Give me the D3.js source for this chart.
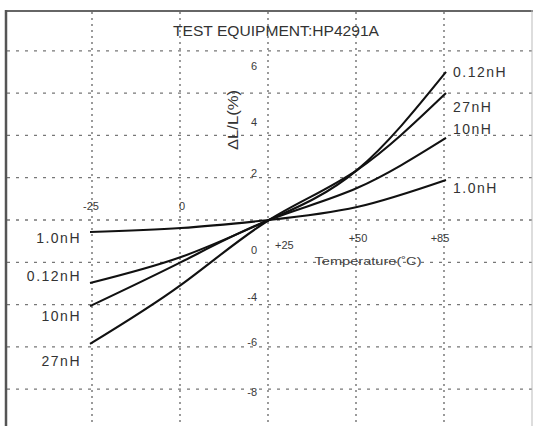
<!DOCTYPE html>
<html>
<head>
<meta charset="utf-8">
<script src="https://cdn.jsdelivr.net/npm/d3@7.9.0/dist/d3.min.js"></script>
<style>
  body { margin: 0; background: #fff; }
  svg { display: block; font-family: "Liberation Sans", Arial, sans-serif; }
  .lbl { fill: #333; font-size: 14px; letter-spacing: 1.5px; }
  .tick { fill: #3a3a3a; font-size: 11px; }
</style>
</head>
<body>
<svg id="chart" width="533" height="426"></svg>
<script>
// temperatures (°C)
const temps = [-25, 0, 25, 50, 85];

// ΔL/L (%) per inductance
const names = ['0.12nH', '27nH', '10nH', '1.0nH'];
const v012 = [-2.98, -1.75, 0, 2.36, 7.0];
const v27 = [-5.86, -3.07, 0, 2.36, 6.0];
const v10 = [-4.07, -1.99, 0, 1.51, 3.88];
const v1 = [-0.57, -0.38, 0, 0.61, 1.89];

const xTickLabels = ['-25', '0', '+25', '+50', '+85'];
const yTickLabels = ['6', '4', '2', '0', '-4', '-6', '-8'];
const yTickAt = [7.28, 4.63, 2.22, -1.44, -3.64, -5.77, -8.13];

const series = [v012, v27, v10, v1].map((vals, i) => ({
  name: names[i],
  values: temps.map((t, j) => ({ t: t, v: vals[j] }))
}));

const svg = d3.select('#chart');

// the drawing spaces -25..+85 evenly, so the last step is stretched
const x = d3.scaleLinear().domain(temps).range([90, 181, 269, 357, 446]);
const gridX = d3.scaleLinear().domain([-25, 75]).range([92, 444]);
const y = d3.scaleLinear().domain([-10, 8]).range([431.5, 50.8]);

// grid
svg.append('g').selectAll('line')
  .data(d3.range(-8, 9, 2))
  .join('line')
  .attr('x1', 7).attr('x2', 533)
  .attr('y1', d => y(d)).attr('y2', d => y(d))
  .attr('stroke', '#777').attr('stroke-width', 1.3)
  .attr('stroke-dasharray', '3,6');

svg.append('g').selectAll('line')
  .data(d3.range(-25, 76, 25))
  .join('line')
  .attr('x1', d => gridX(d)).attr('x2', d => gridX(d))
  .attr('y1', 12).attr('y2', 426)
  .attr('stroke', '#666').attr('stroke-width', 1.3)
  .attr('stroke-dasharray', '2,4');

// frame
svg.append('line').attr('x1', 5).attr('x2', 533).attr('y1', 11).attr('y2', 11)
  .attr('stroke', '#666').attr('stroke-width', 2);
svg.append('line').attr('x1', 6).attr('x2', 6).attr('y1', 10).attr('y2', 426)
  .attr('stroke', '#555').attr('stroke-width', 2.5);
svg.append('line').attr('x1', 532).attr('x2', 532).attr('y1', 10).attr('y2', 426)
  .attr('stroke', '#bbb').attr('stroke-width', 1);

// curves
const line = d3.line()
  .x(d => x(d.t))
  .y(d => y(d.v))
  .curve(d3.curveNatural);

svg.append('g').selectAll('path')
  .data(series)
  .join('path')
  .attr('d', d => line(d.values))
  .attr('fill', 'none')
  .attr('stroke', '#111')
  .attr('stroke-width', 2.1);

// curve labels, right and left ends
const rightDy = [0, 14, -9, 8];
const leftDy = [-7, 17, 10, 6];

svg.append('g').selectAll('text')
  .data(series)
  .join('text')
  .attr('class', 'lbl')
  .attr('x', x(85) + 7)
  .attr('y', (d, i) => y(d.values[d.values.length - 1].v) + rightDy[i])
  .attr('dy', '0.35em')
  .text(d => d.name);

svg.append('g').selectAll('text')
  .data(series)
  .join('text')
  .attr('class', 'lbl')
  .attr('text-anchor', 'end')
  .attr('x', x(-25) - 9)
  .attr('y', (d, i) => y(d.values[0].v) + leftDy[i])
  .attr('dy', '0.35em')
  .text(d => d.name);

// temperature tick labels
svg.append('g').selectAll('text')
  .data(xTickLabels)
  .join('text')
  .attr('class', 'tick')
  .attr('text-anchor', (d, i) => i === 2 ? 'start' : 'middle')
  .attr('x', (d, i) => i === 2 ? x(temps[i]) + 6 : (i === 4 ? x(temps[i]) - 6 : x(temps[i]) + 1))
  .attr('y', (d, i) => i < 2 ? y(0.66) : (i === 2 ? y(-1.18) : y(-0.88)))
  .attr('dy', '0.35em')
  .text(d => d);

// ΔL/L tick labels
svg.append('g').selectAll('text')
  .data(yTickLabels)
  .join('text')
  .attr('class', 'tick')
  .attr('text-anchor', 'end')
  .attr('x', x(25) - 12)
  .attr('y', (d, i) => y(yTickAt[i]))
  .attr('dy', '0.35em')
  .text(d => d);

// titles
svg.append('text')
  .attr('x', 276).attr('y', 31).attr('dy', '0.35em')
  .attr('text-anchor', 'middle')
  .attr('fill', '#333').attr('font-size', 14)
  .attr('textLength', 206).attr('lengthAdjust', 'spacingAndGlyphs')
  .text('TEST EQUIPMENT:HP4291A');

svg.append('text')
  .attr('transform', 'translate(233,120) rotate(-90)')
  .attr('text-anchor', 'middle').attr('dy', '0.35em')
  .attr('fill', '#333').attr('font-size', 14)
  .attr('textLength', 60).attr('lengthAdjust', 'spacingAndGlyphs')
  .text('ΔL/L(%)');

svg.append('text')
  .attr('x', 368).attr('y', 261).attr('dy', '0.35em')
  .attr('text-anchor', 'middle')
  .attr('fill', '#444').attr('font-size', 11)
  .attr('textLength', 107).attr('lengthAdjust', 'spacingAndGlyphs')
  .text('Temperature(˚C)');
</script>
</body>
</html>
